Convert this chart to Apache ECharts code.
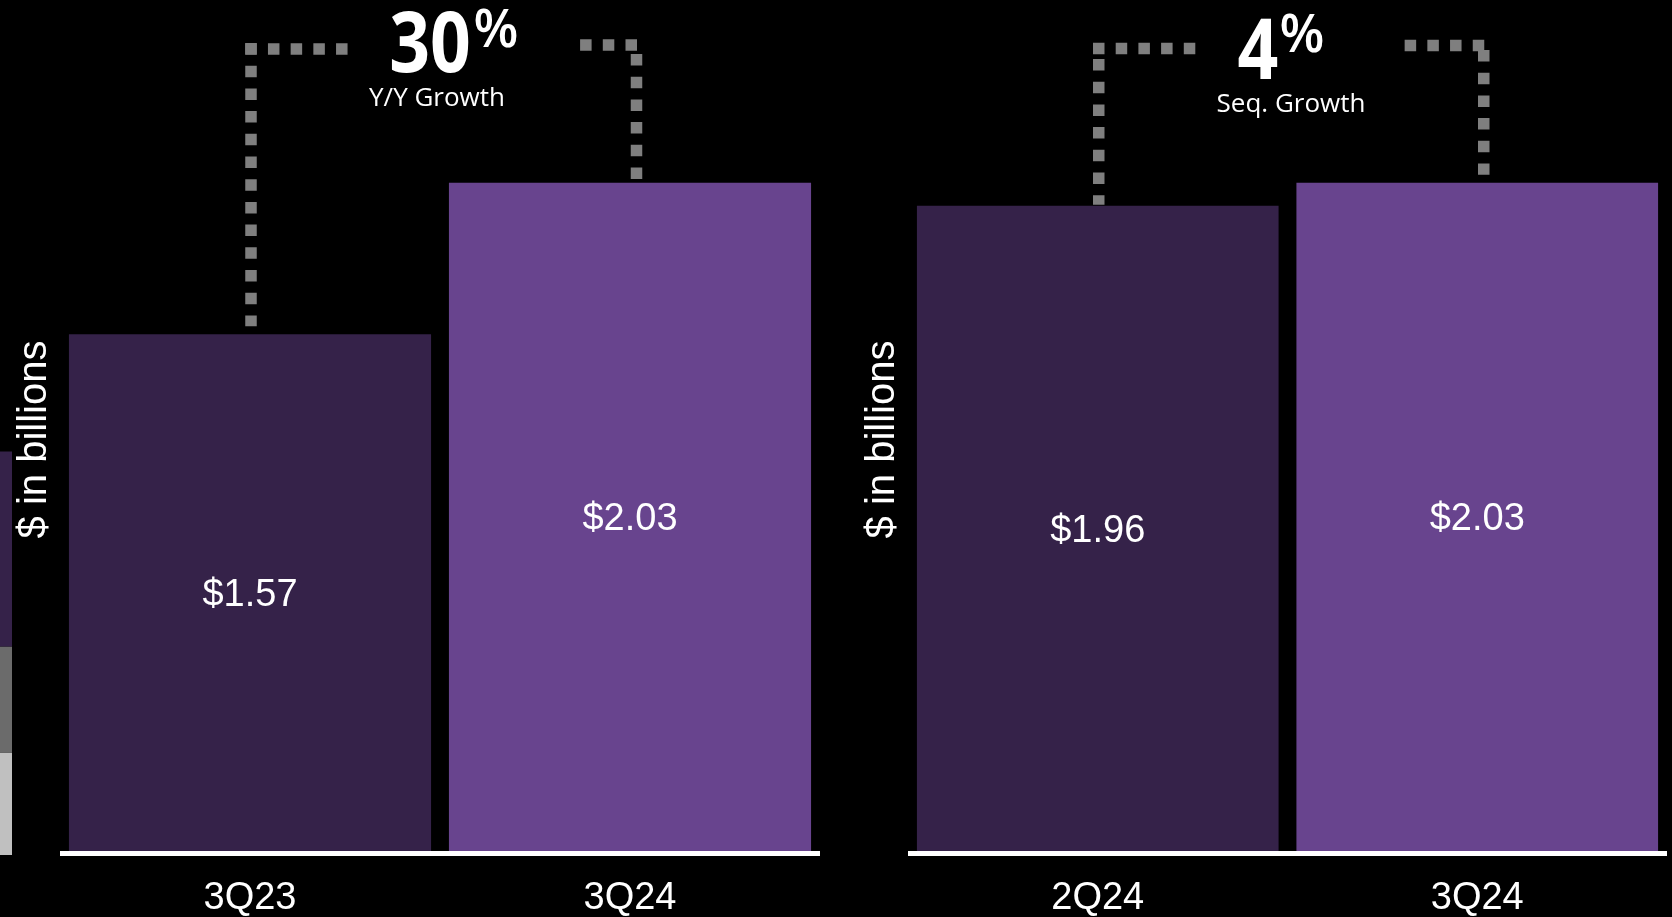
<!DOCTYPE html>
<html>
<head>
<meta charset="utf-8">
<script src="https://cdn.jsdelivr.net/npm/echarts@6/dist/echarts.min.js"></script>
<style>
html,body{margin:0;padding:0;background:#000;}
#chart{width:1672px;height:917px;}
</style>
</head>
<body>
<div id="chart"></div>
<script>
// ---- data ----
const categoriesYY = ['3Q23', '3Q24'];
const valuesYY = [1.57, 2.03];
const categoriesSeq = ['2Q24', '3Q24'];
const valuesSeq = [1.96, 2.03];
const growthYY = ['30', '%', 'Y/Y Growth'];
const growthSeq = ['4', '%', 'Seq. Growth'];
const axisName = '$ in billions';
// partially visible stacked bar at the far left edge (bottom to top)
const stripValues = [0.31, 0.32, 0.59];

// ---- styles ----
const DARK = '#352249', LIGHT = '#68448E';
const barColors = [DARK, LIGHT];
const stripColors = ['#c0c0c0', '#6b6b6b', '#352249'];
const DOT = '#7f7f7f';
const SANS = '"Liberation Sans", Arial, sans-serif';
const OPEN = '"Open Sans", sans-serif';

const panelLayout = [
  {rowY: 49, vStartL: 43, gapL: 8, rowY2: 45, vStartR: 54, gapR: 2, rightSquares: 3},
  {rowY: 48.5, vStartL: 59, gapL: 1, rowY2: 45.5, vStartR: 50, gapR: 8, rightSquares: 4}
];

const SQ = 11.5, GAP = 11.2;
function connector(panel) {
  const L = panelLayout[panel];
  return function (params, api) {
    const idx = params.dataIndex;
    const p = api.coord([api.value(0), api.value(1)]);
    const style = {stroke: DOT, lineWidth: SQ, lineDash: [SQ, GAP], lineCap: 'butt', fill: null};
    if (idx === 0) {
      const xL = p[0] + 1;
      return {type: 'group', children: [
        {type: 'line', shape: {x1: xL, y1: L.vStartL, x2: xL, y2: p[1] - L.gapL}, style: style},
        {type: 'line', shape: {x1: xL - SQ / 2, y1: L.rowY, x2: xL - SQ / 2 + 5 * SQ + 4 * GAP, y2: L.rowY}, style: style}
      ]};
    } else {
      const xR = p[0] + 6.5;
      const len = L.rightSquares * SQ + (L.rightSquares - 1) * GAP;
      return {type: 'group', children: [
        {type: 'line', shape: {x1: xR + 0.5 - len, y1: L.rowY2, x2: xR + 0.5, y2: L.rowY2}, style: style},
        {type: 'line', shape: {x1: xR, y1: L.vStartR, x2: xR, y2: p[1] - L.gapR}, style: style}
      ]};
    }
  };
}

function barData(vals) {
  return vals.map((v, i) => ({value: v, itemStyle: {color: barColors[i]}}));
}

const chart = echarts.init(document.getElementById('chart'), null, {renderer: 'canvas'});

const xAxisCommon = {
  type: 'category',
  axisTick: {show: false},
  axisLine: {onZero: false, lineStyle: {color: '#ffffff', width: 5, cap: 'butt'}},
  offset: 2.5,
  axisLabel: {color: '#ffffff', fontSize: 38, fontFamily: SANS, margin: 26, lineHeight: 38}
};
const yAxisCommon = {
  type: 'value', min: 0, max: 2.5,
  axisLine: {show: false}, axisTick: {show: false}, axisLabel: {show: false}, splitLine: {show: false},
  name: axisName, nameLocation: 'middle', nameRotate: 90, nameGap: 5,
  nameTextStyle: {color: '#ffffff', fontSize: 40, fontFamily: SANS}
};

const labelCommon = {
  show: true, position: 'inside', offset: [0, 3], color: '#ffffff', fontSize: 38, fontFamily: SANS,
  formatter: p => '$' + p.value.toFixed(2)
};

function txt(x, y, s, font, sx) {
  return {type: 'text', x: x, y: y, scaleX: sx || 1,
    style: {text: s, x: 0, y: 0, fill: '#fff', font: font, align: 'center', verticalAlign: 'middle', textAlign: 'center', textVerticalAlign: 'middle'}};
}

const gridCommon = {top: 28, outerBoundsMode: 'none', containLabel: false};

const option = {
  backgroundColor: '#000000',
  animation: false,
  grid: [
    Object.assign({left: 60, width: 760, bottom: 66}, gridCommon),
    Object.assign({left: 908, width: 759, bottom: 66}, gridCommon),
    Object.assign({left: 0, width: 12, bottom: 62}, gridCommon)
  ],
  xAxis: [
    Object.assign({gridIndex: 0, data: categoriesYY}, xAxisCommon),
    Object.assign({gridIndex: 1, data: categoriesSeq}, xAxisCommon),
    {gridIndex: 2, type: 'category', data: [''], show: false}
  ],
  yAxis: [
    Object.assign({gridIndex: 0}, yAxisCommon),
    Object.assign({gridIndex: 1}, yAxisCommon),
    {gridIndex: 2, type: 'value', min: 0, max: 2.5, show: false}
  ],
  series: [
    {type: 'bar', xAxisIndex: 0, yAxisIndex: 0, data: barData(valuesYY), barCategoryGap: '4.7%', label: labelCommon},
    {type: 'bar', xAxisIndex: 1, yAxisIndex: 1, data: barData(valuesSeq), barCategoryGap: '4.7%', label: labelCommon},
    {type: 'custom', xAxisIndex: 0, yAxisIndex: 0, renderItem: connector(0), data: valuesYY.map((v, i) => [i, v]), z: 5, silent: true},
    {type: 'custom', xAxisIndex: 1, yAxisIndex: 1, renderItem: connector(1), data: valuesSeq.map((v, i) => [i, v]), z: 5, silent: true}
  ].concat(stripValues.map((v, i) => ({
    type: 'bar', xAxisIndex: 2, yAxisIndex: 2, stack: 'strip', barWidth: '100%',
    data: [v], itemStyle: {color: stripColors[i]}
  }))),
  graphic: [
    txt(430, 48, growthYY[0], 'bold 84px ' + OPEN, 0.85),
    txt(496, 32, growthYY[1], '600 52px ' + OPEN),
    txt(437, 99, growthYY[2], '26px ' + OPEN),
    txt(1258, 55, growthSeq[0], 'bold 84px ' + OPEN, 0.85),
    txt(1302, 37, growthSeq[1], '600 52px ' + OPEN),
    txt(1291, 105, growthSeq[2], '26px ' + OPEN)
  ]
};
chart.setOption(option);
</script>
</body>
</html>
